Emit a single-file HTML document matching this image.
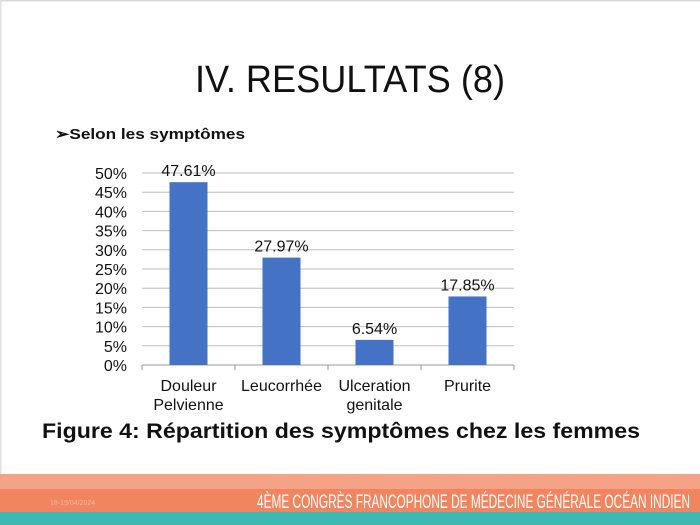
<!DOCTYPE html>
<html><head><meta charset="utf-8"><style>
html,body{margin:0;padding:0;background:#fff}
svg{display:block}
text{font-family:"Liberation Sans",Arial,sans-serif}
</style></head><body>
<svg id="s" width="700" height="525" viewBox="0 0 700 525">
<rect x="0" y="0" width="700" height="525" fill="#fff"/>
<rect x="0" y="0" width="700" height="1.5" fill="#d8d8d8"/>
<rect x="0" y="0" width="1.5" height="474" fill="#e0e0e0"/>
<text x="350" y="92" font-size="38" text-anchor="middle" textLength="310" lengthAdjust="spacingAndGlyphs" fill="#111">IV. RESULTATS (8)</text>
<text x="55" y="139" font-size="15" font-weight="bold" textLength="190" lengthAdjust="spacingAndGlyphs" fill="#111">➢Selon les symptômes</text>
<g id="chart"></g>
<text x="341" y="438" font-size="21" font-weight="bold" text-anchor="middle" textLength="598" lengthAdjust="spacingAndGlyphs" fill="#111">Figure 4: Répartition des symptômes chez les femmes</text>
<rect x="0" y="474" width="700" height="15" fill="#f4a386"/>
<rect x="0" y="489" width="700" height="23" fill="#f0855f"/>
<rect x="0" y="512" width="700" height="13" fill="#3cb9b2"/>
<text x="50" y="505" font-size="7" fill="#f5b59c">18-19/04/2024</text>
<text x="690" y="508" font-size="19" text-anchor="end" textLength="433" lengthAdjust="spacingAndGlyphs" fill="#fff">4ÈME CONGRÈS FRANCOPHONE DE MÉDECINE GÉNÉRALE OCÉAN INDIEN</text>
</svg>
<script>
const categories=[["Douleur","Pelvienne"],["Leucorrhée"],["Ulceration","genitale"],["Prurite"]];
const values=[47.61,27.97,6.54,17.85];
const valueLabels=["47.61%","27.97%","6.54%","17.85%"];
const yTicks=[0,5,10,15,20,25,30,35,40,45,50];
const NS="http://www.w3.org/2000/svg";
const g=document.getElementById('chart');
const X0=142,X1=514,Y0=365,Y1=173;
const y=v=>Y0-(v/50)*(Y0-Y1);
const band=(X1-X0)/categories.length;
const x=i=>X0+band*i;
function mk(t,a){const e=document.createElementNS(NS,t);for(const k in a)e.setAttribute(k,a[k]);g.appendChild(e);return e;}
yTicks.forEach(t=>{
  if(t>0){const l=mk('line',{x1:X0,x2:X1,y1:y(t),y2:y(t),stroke:'#bdbdbd','stroke-width':1});
  
  }
  const tx=mk('text',{x:X0-15,y:y(t)+6,'font-size':16,'text-anchor':'end',fill:'#111'});
  tx.textContent=t+'%';
  
  
});
const ax=mk('line',{x1:X0,x2:X1,y1:Y0,y2:Y0,stroke:'#9a9a9a','stroke-width':1});


for(let i=0;i<=categories.length;i++){
  const tk=mk('line',{x1:x(i),x2:x(i),y1:Y0,y2:Y0+5,stroke:'#9a9a9a'});
  
  
}
const bw=38;
values.forEach((v,i)=>{
  const cx=x(i)+band/2;
  const r=mk('rect',{x:cx-bw/2,y:y(v),width:bw,height:Y0-y(v),fill:'#4472c4'});
  
  
  const lb=mk('text',{x:cx,y:y(v)-6,'font-size':16,'text-anchor':'middle',fill:'#111'});
  lb.textContent=valueLabels[i];
  
  
  categories[i].forEach((line,j)=>{
    const c=mk('text',{x:cx,y:391+j*19,'font-size':16,'text-anchor':'middle',fill:'#111'});
    c.textContent=line;
    
    
  });
});
</script>
</body></html>
